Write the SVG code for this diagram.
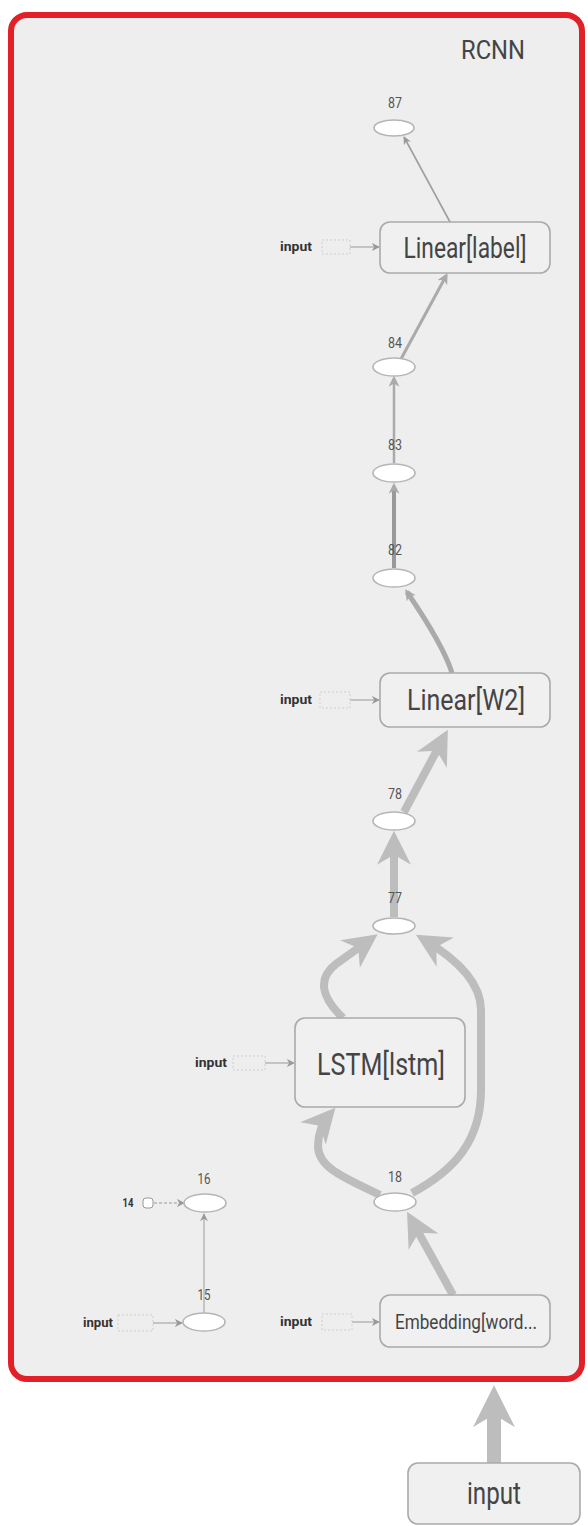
<svg xmlns="http://www.w3.org/2000/svg" width="588" height="1526" viewBox="0 0 588 1526">
<style>
.t{font-family:Roboto,'Liberation Sans',sans-serif;fill:#444;text-anchor:middle}
.num{font-family:Roboto,'Liberation Sans',sans-serif;fill:#555;text-anchor:middle;font-size:15px}
.inp{font-family:Roboto,'Liberation Sans',sans-serif;fill:#333;text-anchor:middle;font-size:12px;font-weight:bold}
.box{fill:#f0f0f0;stroke:#aaa;stroke-width:1.6}
.ell{fill:#fff;stroke:#b5b5b5;stroke-width:1.6}
.stub{fill:none;stroke:#cfcfcf;stroke-width:1;stroke-dasharray:2 2}
.e{fill:none;stroke-linecap:butt}
</style>
<defs>
<marker id="as" viewBox="0 0 10 10" refX="9" refY="5" markerUnits="userSpaceOnUse" markerWidth="8" markerHeight="8" orient="auto"><path d="M0,0 L10,5 L0,10 L3,5 z" fill="#999"/></marker>
<marker id="am" viewBox="0 0 10 10" refX="7" refY="5" markerUnits="userSpaceOnUse" markerWidth="11" markerHeight="11" orient="auto"><path d="M0,0 L10,5 L0,10 L3,5 z" fill="#aaa"/></marker>
<marker id="al" viewBox="0 0 10 10" refX="7.6" refY="5" markerUnits="userSpaceOnUse" markerWidth="34" markerHeight="34" orient="auto"><path d="M0,0 L10,5 L0,10 L3,5 z" fill="#bdbdbd"/></marker>
<marker id="ax" viewBox="0 0 10 10" refX="6.7" refY="5" markerUnits="userSpaceOnUse" markerWidth="42" markerHeight="42" orient="auto"><path d="M0,0 L10,5 L0,10 L3,5 z" fill="#bdbdbd"/></marker>
</defs>

<g id="RCNN">
<rect x="11" y="15" width="571" height="1364" rx="16" fill="#eeeeee" stroke="#e12127" stroke-width="6"/>
<text class="t" x="493" y="59" font-size="25" textLength="64" lengthAdjust="spacingAndGlyphs">RCNN</text>
</g>

<g id="connectors">
<path class="e" d="M450,222 L404,137" stroke="#9e9e9e" stroke-width="1.6" marker-end="url(#as)"/>
<path class="e" d="M401,359 L446,276" stroke="#aaa" stroke-width="3" marker-end="url(#am)"/>
<path class="e" d="M394,463 L394,379" stroke="#aaa" stroke-width="2.5" marker-end="url(#am)"/>
<path class="e" d="M394,568 L394,486" stroke="#999" stroke-width="4" marker-end="url(#am)"/>
<path class="e" d="M452,673 C445,650 422,614 407,592" stroke="#aaa" stroke-width="5" marker-end="url(#am)"/>
<path class="e" d="M404,812 L444,737" stroke="#bdbdbd" stroke-width="8" marker-end="url(#al)"/>
<path class="e" d="M394,917 L394,839" stroke="#bdbdbd" stroke-width="8" marker-end="url(#al)"/>
<path class="e" d="M343,1018 C320,996 318,978 336,964 L371,939" stroke="#bdbdbd" stroke-width="8" marker-end="url(#al)"/>
<path class="e" d="M412,1193 C455,1170 481,1140 481,1090 L481,1010 C481,985 462,962 423,939" stroke="#bdbdbd" stroke-width="8" marker-end="url(#al)"/>
<path class="e" d="M380,1195 C345,1178 318,1168 318,1146 C318,1132 323,1122 330,1114" stroke="#bdbdbd" stroke-width="8" marker-end="url(#al)"/>
<path class="e" d="M453,1295 L411,1219" stroke="#bdbdbd" stroke-width="8" marker-end="url(#al)"/>
<path class="e" d="M494,1463 L494,1399" stroke="#bdbdbd" stroke-width="14" marker-end="url(#ax)"/>
<path class="e" d="M204,1313 L204,1214" stroke="#aaa" stroke-width="1.2" marker-end="url(#as)"/>
<path class="e" d="M154,1203 L184,1203" stroke="#999" stroke-width="1" stroke-dasharray="3 2" marker-end="url(#as)"/>
<path class="e" d="M350,247 L379,247" stroke="#999" stroke-width="1" marker-end="url(#as)"/>
<path class="e" d="M350,700 L379,700" stroke="#999" stroke-width="1" marker-end="url(#as)"/>
<path class="e" d="M265,1063 L294,1063" stroke="#999" stroke-width="1" marker-end="url(#as)"/>
<path class="e" d="M352,1322 L379,1322" stroke="#999" stroke-width="1" marker-end="url(#as)"/>
<path class="e" d="M153,1323 L182,1323" stroke="#999" stroke-width="1" marker-end="url(#as)"/>
</g>

<g id="n87"><ellipse class="ell" cx="394" cy="128" rx="20" ry="8"/><text class="num" x="395" y="108" textLength="14" lengthAdjust="spacingAndGlyphs">87</text></g>

<g id="linear-label">
<rect class="box" x="380" y="222" width="170" height="51" rx="10"/>
<text class="t" x="465" y="258" font-size="29" textLength="123" lengthAdjust="spacingAndGlyphs">Linear[label]</text>
</g>
<g id="in-label"><text class="inp" x="296" y="251" textLength="32" lengthAdjust="spacingAndGlyphs">input</text><rect class="stub" x="322" y="240" width="28" height="14"/></g>

<g id="n84"><ellipse class="ell" cx="394" cy="367" rx="21" ry="9"/><text class="num" x="395" y="348" textLength="14" lengthAdjust="spacingAndGlyphs">84</text></g>
<g id="n83"><ellipse class="ell" cx="394" cy="473" rx="21" ry="9"/><text class="num" x="395" y="450" textLength="14" lengthAdjust="spacingAndGlyphs">83</text></g>
<g id="n82"><ellipse class="ell" cx="394" cy="578" rx="21" ry="9"/><text class="num" x="395" y="555" textLength="14" lengthAdjust="spacingAndGlyphs">82</text></g>

<g id="linear-w2">
<rect class="box" x="380" y="673" width="170" height="54" rx="10"/>
<text class="t" x="466" y="710" font-size="30" textLength="118" lengthAdjust="spacingAndGlyphs">Linear[W2]</text>
</g>
<g id="in-w2"><text class="inp" x="296" y="704" textLength="32" lengthAdjust="spacingAndGlyphs">input</text><rect class="stub" x="320" y="692" width="30" height="16"/></g>

<g id="n78"><ellipse class="ell" cx="394" cy="821" rx="21" ry="9"/><text class="num" x="395" y="799" textLength="14" lengthAdjust="spacingAndGlyphs">78</text></g>
<g id="n77"><ellipse class="ell" cx="394" cy="926" rx="21" ry="8"/><text class="num" x="395" y="903" textLength="14" lengthAdjust="spacingAndGlyphs">77</text></g>

<g id="lstm">
<rect class="box" x="295" y="1018" width="170" height="89" rx="10"/>
<text class="t" x="381" y="1075" font-size="32" textLength="128" lengthAdjust="spacingAndGlyphs">LSTM[lstm]</text>
</g>
<g id="in-lstm"><text class="inp" x="211" y="1067" textLength="32" lengthAdjust="spacingAndGlyphs">input</text><rect class="stub" x="233" y="1056" width="32" height="14"/></g>

<g id="n18"><ellipse class="ell" cx="395" cy="1202" rx="21" ry="9"/><text class="num" x="395" y="1182" font-size="17" textLength="14" lengthAdjust="spacingAndGlyphs">18</text></g>

<g id="embedding">
<rect class="box" x="380" y="1295" width="170" height="52" rx="10"/>
<text class="t" x="466" y="1329" font-size="20" textLength="142" lengthAdjust="spacingAndGlyphs">Embedding[word...</text>
</g>
<g id="in-emb"><text class="inp" x="296" y="1326" textLength="32" lengthAdjust="spacingAndGlyphs">input</text><rect class="stub" x="322" y="1314" width="30" height="16"/></g>

<g id="n16"><ellipse class="ell" cx="205" cy="1203" rx="21" ry="9"/><text class="num" x="204" y="1184" font-size="17" textLength="13" lengthAdjust="spacingAndGlyphs">16</text></g>
<g id="n14"><rect x="143" y="1198" width="10" height="10" rx="3" fill="#fff" stroke="#999" stroke-width="1"/><text class="inp" x="128" y="1207" font-size="12" textLength="11" lengthAdjust="spacingAndGlyphs">14</text></g>
<g id="n15"><ellipse class="ell" cx="204" cy="1322" rx="21" ry="9"/><text class="num" x="204" y="1300" font-size="17" textLength="13" lengthAdjust="spacingAndGlyphs">15</text></g>
<g id="in-15"><text class="inp" x="98" y="1327" textLength="30" lengthAdjust="spacingAndGlyphs">input</text><rect class="stub" x="118" y="1315" width="35" height="16"/></g>

<g id="input">
<rect class="box" x="408" y="1463" width="172" height="61" rx="10"/>
<text class="t" x="494" y="1504" font-size="31" textLength="54" lengthAdjust="spacingAndGlyphs">input</text>
</g>
</svg>
